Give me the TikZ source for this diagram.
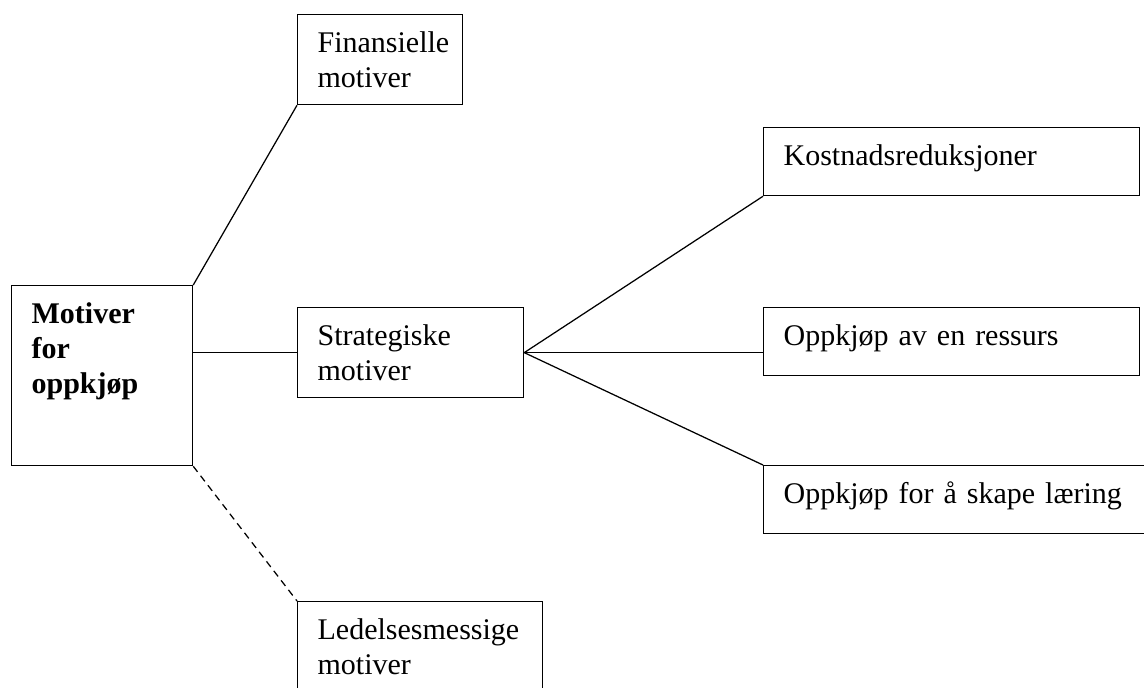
\documentclass[tikz,border=0pt]{standalone}
\usepackage{fontspec}
\setmainfont{Liberation Serif}
\usepackage{tikz}

\begin{document}
\begin{tikzpicture}[x=0.4pt, y=-0.4pt,
    boks/.style={draw, line width=0.5pt, anchor=north west, align=left,
      inner xsep=8pt, inner ysep=0pt, text height=15.2pt,
      font=\fontsize{12}{14}\selectfont},
    tolinjer/.style={boks, text depth=20.8pt},
    enlinje/.style={boks, text depth=12pt},
    linje/.style={line width=0.5pt},
    stiplet/.style={linje, dash pattern=on 2.8pt off 2pt}]
  \useasboundingbox (0,0) rectangle (1144,687);

  % Main box
  \node[boks, text width=56.4pt, text depth=56.8pt] (mot) at (11,285)
    {\bfseries Motiver\\for\\oppkjøp};

  % Left column
  \node[tolinjer, text width=50pt] (fin) at (297,14) {Finansielle\\motiver};
  \node[tolinjer, text width=74.4pt] (str) at (297,307) {Strategiske\\motiver};
  \node[tolinjer, text width=82pt] (led) at (297,601) {Ledelsesmessige\\motiver};

  % Right column
  \node[enlinje, text width=134.4pt] (kost) at (763,127) {Kostnadsreduksjoner};
  \node[enlinje, text width=134.4pt] (ress) at (763,307) {Oppkjøp av en ressurs};
  \node[enlinje, text width=144pt] (laer) at (763,465) {Oppkjøp for å skape læring};

  % Connectors
  \draw[linje] (mot.north east) -- (fin.south west);
  \draw[linje] (mot.east |- str.west) -- (str.west);
  \draw[stiplet] (mot.south east) -- (led.north west);
  \draw[linje] (str.east) -- (kost.south west);
  \draw[linje] (str.east) -- (str.east -| ress.west);
  \draw[linje] (str.east) -- (laer.north west);
\end{tikzpicture}
\end{document}
